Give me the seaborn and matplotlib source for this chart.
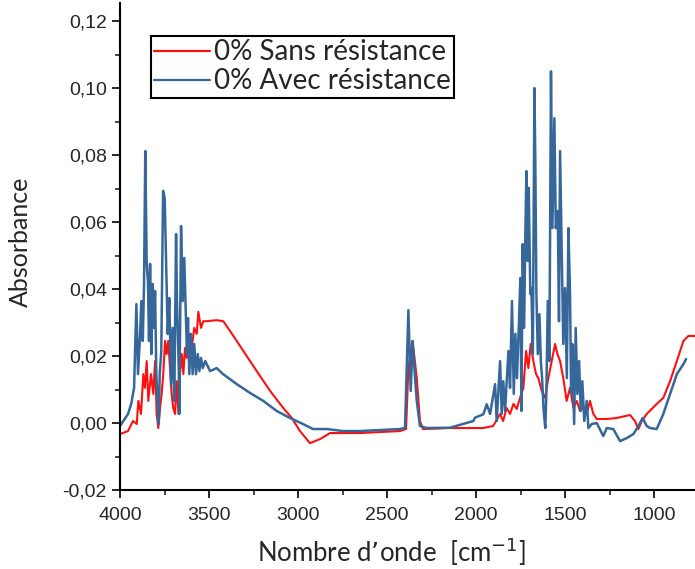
import matplotlib
matplotlib.use("Agg")
import matplotlib.pyplot as plt
import numpy as np
import pandas as pd
import seaborn as sns
from matplotlib.ticker import MultipleLocator, FuncFormatter

# spectrum: wavenumber (cm-1) and absorbance
wn_sans = [4000, 3955, 3927, 3906, 3897, 3882, 3869, 3860, 3850, 3841, 3826, 3813,
           3803, 3794, 3785, 3775, 3766, 3757, 3747, 3738, 3729, 3719, 3710, 3701,
           3691, 3681, 3672, 3663, 3653, 3644, 3635, 3625, 3612, 3597, 3583, 3569,
           3560, 3545, 3532, 3513, 3457, 3420, 3382, 3307, 3232, 3157, 3083, 3035,
           2989, 2933, 2876, 2820, 2747, 2652, 2427, 2393, 2380, 2358, 2348, 2333,
           2315, 2298, 2146, 1961, 1904, 1865, 1848, 1828, 1809, 1790, 1771, 1753,
           1734, 1719, 1706, 1693, 1678, 1663, 1650, 1631, 1612, 1594, 1575, 1556,
           1543, 1528, 1510, 1491, 1472, 1453, 1434, 1416, 1397, 1378, 1360, 1341,
           1322, 1266, 1210, 1135, 1107, 1088, 1069, 1041, 985, 948, 910, 872,
           835, 807, 770]
abs_sans = [-0.0033, -0.0024, 0.0006, -0.0003, 0.0066, 0.0027, 0.0146, 0.0105, 0.0185, 0.0066, 0.0146, 0.0087,
            0.0185, 0.0027, -0.0015, 0.0045, 0.0087, 0.0146, 0.0245, 0.0206, 0.0245, 0.0164, 0.0087, 0.0045,
            0.0027, 0.0125, 0.0027, 0.0146, 0.0206, 0.0146, 0.0224, 0.0194, 0.0266, 0.0224, 0.0284, 0.0266,
            0.0332, 0.0284, 0.0304, 0.0304, 0.0307, 0.0304, 0.0275, 0.0215, 0.0155, 0.0096, 0.0045, 0.0015,
            -0.0024, -0.0060, -0.0048, -0.0030, -0.0030, -0.0030, -0.0024, -0.0018, 0.0164, 0.0245, 0.0206, 0.0134,
            0.0006, -0.0018, -0.0015, -0.0015, -0.0009, 0.0027, 0.0006, 0.0045, 0.0027, 0.0057, 0.0042, 0.0075,
            0.0105, 0.0215, 0.0164, 0.0236, 0.0185, 0.0146, 0.0134, 0.0096, 0.0075, 0.0134, 0.0185, 0.0236,
            0.0206, 0.0185, 0.0134, 0.0066, 0.0105, 0.0045, 0.0066, 0.0036, 0.0045, 0.0027, 0.0066, 0.0027,
            0.0012, 0.0012, 0.0015, 0.0024, 0.0006, -0.0018, 0.0006, 0.0027, 0.0057, 0.0075, 0.0125, 0.0185,
            0.0245, 0.0260, 0.0260]

wn_avec = [4000, 3955, 3937, 3921, 3908, 3899, 3889, 3880, 3872, 3865, 3858, 3850,
           3843, 3837, 3831, 3824, 3816, 3809, 3803, 3796, 3787, 3782, 3777, 3768,
           3758, 3749, 3740, 3732, 3723, 3713, 3704, 3695, 3685, 3680, 3670, 3667,
           3657, 3648, 3639, 3629, 3624, 3618, 3611, 3601, 3592, 3583, 3573, 3563,
           3554, 3545, 3535, 3521, 3494, 3457, 3421, 3344, 3270, 3195, 3120, 3045,
           2972, 2916, 2837, 2747, 2652, 2427, 2399, 2390, 2380, 2367, 2356, 2346,
           2333, 2315, 2277, 2146, 2015, 2006, 1959, 1940, 1921, 1893, 1884, 1865,
           1856, 1847, 1837, 1818, 1809, 1798, 1788, 1779, 1770, 1760, 1751, 1745,
           1738, 1730, 1723, 1717, 1710, 1704, 1695, 1689, 1681, 1672, 1667, 1661,
           1653, 1644, 1636, 1629, 1620, 1611, 1605, 1597, 1588, 1579, 1571, 1560,
           1552, 1541, 1534, 1528, 1518, 1510, 1500, 1490, 1481, 1472, 1466, 1459,
           1449, 1440, 1431, 1421, 1412, 1403, 1392, 1378, 1369, 1350, 1322, 1285,
           1266, 1229, 1191, 1153, 1116, 1088, 1064, 1041, 1022, 985, 948, 910,
           872, 835, 820]
abs_avec = [-0.0009, 0.0027, 0.0057, 0.0105, 0.0355, 0.0146, 0.0245, 0.0364, 0.0245, 0.0415, 0.0812, 0.0475,
            0.0424, 0.0245, 0.0475, 0.0206, 0.0415, 0.0284, 0.0394, 0.0146, 0.0045, -0.0003, 0.0146, 0.0215,
            0.0693, 0.0672, 0.0463, 0.0266, 0.0373, 0.0116, 0.0284, 0.0066, 0.0564, 0.0364, 0.0164, 0.0027,
            0.0588, 0.0364, 0.0493, 0.0304, 0.0206, 0.0313, 0.0146, 0.0266, 0.0146, 0.0236, 0.0146, 0.0206,
            0.0155, 0.0194, 0.0164, 0.0185, 0.0155, 0.0164, 0.0146, 0.0116, 0.0090, 0.0066, 0.0036, 0.0015,
            -0.0003, -0.0018, -0.0018, -0.0024, -0.0024, -0.0018, -0.0015, 0.0150, 0.0337, 0.0096, 0.0245, 0.0160,
            0.0066, -0.0009, -0.0015, -0.0014, 0.0006, 0.0016, 0.0026, 0.0056, 0.0027, 0.0116, 0.0006, 0.0185,
            0.0027, 0.0125, 0.0036, 0.0215, 0.0105, 0.0364, 0.0087, 0.0266, 0.0134, 0.0284, 0.0433, 0.0036,
            0.0534, 0.0284, 0.0564, 0.0752, 0.0484, 0.0702, 0.0385, 0.0403, 0.0206, 0.1000, 0.0782, 0.0385,
            0.0206, 0.0325, 0.0185, 0.0134, 0.0036, -0.0015, 0.0087, 0.0364, 0.0185, 0.1050, 0.0582, 0.0910,
            0.0582, 0.0633, 0.0304, 0.0812, 0.0484, 0.0236, 0.0403, 0.0134, 0.0582, 0.0385, 0.0087, 0.0236,
            -0.0003, 0.0284, 0.0087, 0.0185, 0.0036, 0.0125, 0.0006, 0.0066, -0.0015, -0.0003, 0.0000, -0.0039,
            -0.0015, -0.0018, -0.0054, -0.0045, -0.0033, -0.0009, 0.0015, -0.0009, -0.0015, -0.0018, 0.0027, 0.0087,
            0.0146, 0.0176, 0.0191]

labels = ["0% Sans résistance", "0% Avec résistance"]
colors = ["#ff1010", "#36679a"]

df = pd.concat([
    pd.DataFrame({"wn": wn_sans, "A": abs_sans, "serie": labels[0]}),
    pd.DataFrame({"wn": wn_avec, "A": abs_avec, "serie": labels[1]}),
])

sns.set_style("ticks")
plt.rcParams["font.family"] = ["Liberation Sans", "DejaVu Sans"]

fig = plt.figure(figsize=(6.95, 5.69), dpi=100)
ax = fig.add_axes([120 / 695, 79 / 569, 575 / 695, 487 / 569])

sns.lineplot(data=df, x="wn", y="A", hue="serie", palette=colors, hue_order=labels,
             sort=False, estimator=None, linewidth=1.5, ax=ax)
ax.lines[1].set_linewidth(1.8)  # blue trace looks heavier (dense spikes)

ax.set_xlim(4000, 770)
ax.set_ylim(-0.02, 0.1254)
ax.xaxis.set_major_locator(MultipleLocator(500))
ax.xaxis.set_minor_locator(MultipleLocator(250))
ax.yaxis.set_major_locator(MultipleLocator(0.02))
ax.yaxis.set_minor_locator(MultipleLocator(0.01))
ax.yaxis.set_major_formatter(FuncFormatter(lambda v, p: f"{v:.2f}".replace(".", ",").replace("-0,00", "0,00")))
ax.tick_params(which="major", direction="out", length=6, width=1.4, labelsize=14)
ax.tick_params(axis="x", which="major", pad=6)
ax.tick_params(which="minor", direction="out", length=3.5, width=1.2)

for s in ["top", "right"]:
    ax.spines[s].set_visible(False)
for s in ["left", "bottom"]:
    ax.spines[s].set_linewidth(1.5)
    ax.spines[s].set_color("black")

ax.set_ylabel("Absorbance", fontsize=18, family=["Lato", "DejaVu Sans"])
ax.yaxis.set_label_coords(-0.153, 0.51)
ax.set_xlabel("Nombre d’onde  [cm$^{-1}$]", fontsize=18.5, family=["Lato", "DejaVu Sans"])
ax.xaxis.set_label_coords(0.471, -0.094)

leg = ax.legend(loc="upper left", bbox_to_anchor=(0.054, 0.932), borderaxespad=0,
                fancybox=False, framealpha=1, edgecolor="black", handlelength=2.0,
                handletextpad=0.15, labelspacing=0.1, borderpad=0.12,
                prop={"family": ["Lato", "DejaVu Sans"], "size": 20})
leg.get_frame().set_linewidth(1.5)
for line in leg.get_lines():
    line.set_linewidth(1.6)

fig.savefig("out.png", dpi=100)
